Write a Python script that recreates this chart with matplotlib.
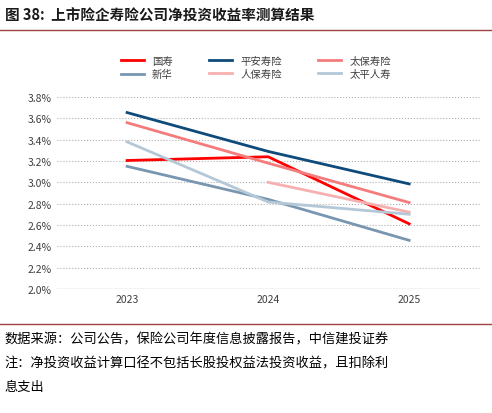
import matplotlib
matplotlib.use("Agg")
import matplotlib.pyplot as plt
from matplotlib.ticker import FuncFormatter

plt.rcParams['font.family'] = ['Noto Sans CJK SC', 'DejaVu Sans']

years = ["2023", "2024", "2025"]
guoshou = [3.205, 3.24, 2.61]
pingan = [3.655, 3.29, 2.985]
taibao = [3.56, 3.18, 2.81]
xinhua = [3.15, 2.84, 2.455]
renbao = [None, 3.00, 2.72]
taiping = [3.38, 2.815, 2.70]

series = [("国寿", guoshou, "#ff0000"), ("平安寿险", pingan, "#0e4a7a"),
          ("太保寿险", taibao, "#f47c7c"), ("新华", xinhua, "#7896b0"),
          ("人保寿险", renbao, "#f7b0b0"), ("太平人寿", taiping, "#b4c8d8")]

fig = plt.figure(figsize=(4.92, 4.14), dpi=100)
fig.text(0.01, 0.95, "图 38:  上市险企寿险公司净投资收益率测算结果", fontsize=10.5,
         fontweight='bold', color='#1a1a1a')
fig.add_artist(plt.Line2D([0.0, 1.0], [0.925, 0.925], color='#a04040', lw=1))
ax = fig.add_axes([0.115, 0.30, 0.86, 0.463])
x = list(range(len(years)))
handles = {}
for name, vals, c in series:
    xs = [i for i, v in zip(x, vals) if v is not None]
    ys = [v for v in vals if v is not None]
    handles[name], = ax.plot(xs, ys, color=c, lw=2, label=name)
ax.set_xlim(-0.5, 2.5)
ax.set_ylim(2.0, 3.8)
ax.set_yticks([2.0 + 0.2 * i for i in range(10)])
ax.yaxis.set_major_formatter(FuncFormatter(lambda v, p: f"{v:.1f}%"))
ax.set_xticks(x)
ax.set_xticklabels(years)
ax.tick_params(length=0, labelsize=7.5, colors='#404040')
ax.grid(axis='y', color='#b0b0b0', ls=':', lw=0.8)
for s in ax.spines.values():
    s.set_visible(False)
ax.axhline(2.0, color='#d0d0d0', lw=1)
order = ["国寿", "新华", "平安寿险", "人保寿险", "太保寿险", "太平人寿"]
fig.legend([handles[n] for n in order], order, loc='upper center',
           bbox_to_anchor=(0.52, 0.885), ncol=3, frameon=False,
           fontsize=7.5, handlelength=2.2, columnspacing=3.5, labelcolor='#404040',
           labelspacing=0.3)
fig.add_artist(plt.Line2D([0.0, 1.0], [0.215, 0.215], color='#a04040', lw=1))
fig.text(0.01, 0.17, "数据来源：公司公告，保险公司年度信息披露报告，中信建投证券", fontsize=9.5, style='italic')
fig.text(0.01, 0.112, "注：净投资收益计算口径不包括长股投权益法投资收益，且扣除利", fontsize=9.5, style='italic')
fig.text(0.01, 0.055, "息支出", fontsize=9.5, style='italic')
fig.savefig("out.png", dpi=100)
